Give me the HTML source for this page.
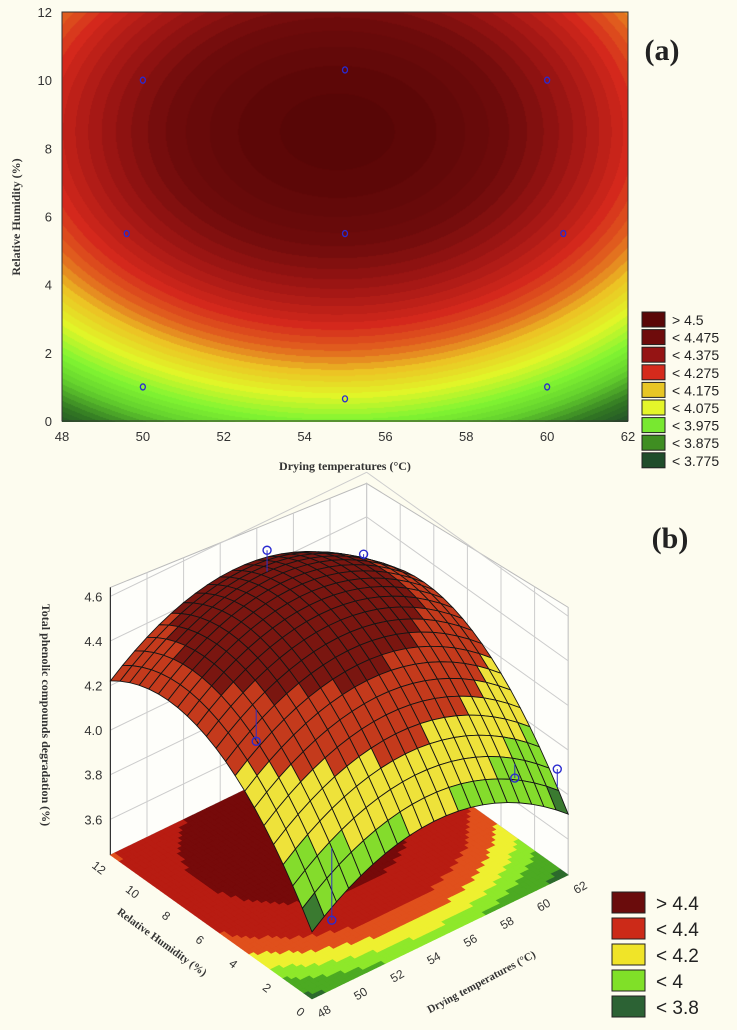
<!DOCTYPE html>
<html><head><meta charset="utf-8">
<style>
html,body{margin:0;padding:0;background:#fdfcef;}
#wrap{position:relative;width:737px;height:1030px;overflow:hidden;background:#fdfcef;font-family:"Liberation Sans",sans-serif;}
svg{position:absolute;left:0;top:0;}
canvas{position:absolute;}
</style></head>
<body>
<div id="wrap">
<canvas id="cv" width="566" height="410" style="left:62px;top:12px"></canvas>
<svg id="sv" width="737" height="1030"></svg>
</div>
<script>
// ---- data ----
const coefA = [4.55, 54.8, 0.005, 8.5, 0.008]; // peak, T0, a, RH0, b
const designT = [50, 55, 60, 49.6, 55, 60.4, 50, 55, 60];
const designRH = [10, 10.3, 10, 5.5, 5.5, 5.5, 1, 0.65, 1];
const xTicks = [48, 50, 52, 54, 56, 58, 60, 62];
const yTicks = [0, 2, 4, 6, 8, 10, 12];
const legendA = ["> 4.5", "< 4.475", "< 4.375", "< 4.275", "< 4.175", "< 4.075", "< 3.975", "< 3.875", "< 3.775"];
const legendAColors = ["#5a0707", "#6e0b0b", "#951414", "#d52a1c", "#e8c625", "#e4f52a", "#78e830", "#3f8e22", "#1f4d2a"];
const zTicks = [3.6, 3.8, 4.0, 4.2, 4.4, 4.6];
const rhTicks3d = [0, 2, 4, 6, 8, 10, 12];
const tTicks3d = [48, 50, 52, 54, 56, 58, 60, 62];
const legendB = ["> 4.4", "< 4.4", "< 4.2", "< 4", "< 3.8"];
const legendBColors = ["#6a0c0c", "#cc2a18", "#f0e428", "#80e028", "#2c6234"];
const bandLevels = [3.8, 4.0, 4.2, 4.4];
const floorLevels = [3.8, 3.95, 4.05, 4.15, 4.25, 4.42];
const floorColors = ["#2c6a2c", "#4caa22", "#8ee82a", "#eef030", "#e0501c", "#b81c12", "#760a0a"];
const obsT = [55, 60, 50, 60, 62, 50];
const obsRH = [10.3, 10, 5.5, 1, 0.65, 1];
const obsZ = [4.62, 4.42, 4.22, 3.9, 3.88, 3.66];

function model(T, RH){ return coefA[0] - coefA[2]*(T-coefA[1])**2 - coefA[4]*(RH-coefA[3])**2; }

// ---- contour (a) ----
const stops = [[3.70,[30,72,40]],[3.80,[50,120,35]],[3.90,[100,210,45]],[3.98,[130,245,50]],[4.07,[225,245,40]],[4.15,[236,196,36]],[4.22,[226,100,30]],[4.29,[212,40,28]],[4.38,[160,22,20]],[4.46,[112,12,12]],[4.55,[88,6,6]]];
function colA(z){
  z = Math.floor(z/0.02)*0.02+0.01;
  if(z<=stops[0][0]) return stops[0][1];
  for(let i=1;i<stops.length;i++){ if(z<=stops[i][0]){const t=(z-stops[i-1][0])/(stops[i][0]-stops[i-1][0]);return stops[i-1][1].map((c,k)=>Math.round(c+(stops[i][1][k]-c)*t));}}
  return stops[stops.length-1][1];
}
const X0=62,X1=628,Y0=12,Y1=421;
const sx=T=>X0+(T-48)/14*(X1-X0), sy=R=>Y1-R/12*(Y1-Y0);
const cv=document.getElementById('cv'),ctx=cv.getContext('2d');
const img=ctx.createImageData(566,410);
for(let py=0;py<410;py++)for(let px=0;px<566;px++){
  const T=48+px/566*14,R=12-py/409*12;const c=colA(model(T,R));const o=(py*566+px)*4;
  img.data[o]=c[0];img.data[o+1]=c[1];img.data[o+2]=c[2];img.data[o+3]=255;}
ctx.putImageData(img,0,0);

const NS="http://www.w3.org/2000/svg";
const sv=document.getElementById('sv');
function el(tag,attrs,parent){const e=document.createElementNS(NS,tag);for(const k in attrs)e.setAttribute(k,attrs[k]);(parent||sv).appendChild(e);return e;}
function txt(s,attrs){const e=el('text',attrs);e.textContent=s;return e;}

// axes a
let e=el('rect',{x:X0,y:Y0,width:X1-X0,height:Y1-Y0,fill:'none',stroke:'#333','stroke-width':1});

xTicks.forEach(t=>{e=txt(t,{x:sx(t),y:441,'font-size':13,'text-anchor':'middle',fill:'#333'});
});
yTicks.forEach(t=>{e=txt(t,{x:52,y:sy(t)+5,'font-size':13,'text-anchor':'end',fill:'#333'});
});
e=txt('Drying temperatures (°C)',{x:345,y:470,'font-size':12,'font-weight':'bold','font-family':'Liberation Serif, serif','text-anchor':'middle',fill:'#333'});

e=txt('Relative Humidity (%)',{x:0,y:0,'font-size':12,'font-weight':'bold','font-family':'Liberation Serif, serif','text-anchor':'middle',fill:'#333',transform:'translate(20,217) rotate(-90)'});

designT.forEach((t,i)=>{e=el('ellipse',{cx:sx(t),cy:sy(designRH[i]),rx:2.5,ry:3,fill:'none',stroke:'#2a2ad0','stroke-width':1.3});
});
e=txt('(a)',{x:662,y:60,'font-size':30,'font-weight':'bold','font-family':'Liberation Serif, serif','text-anchor':'middle',fill:'#222'});

legendA.forEach((s,i)=>{const y=312+i*17.6;
e=el('rect',{x:642,y:y,width:23,height:15,fill:legendAColors[i],stroke:'#222','stroke-width':1});

e=txt(s,{x:672,y:y+13,'font-size':14,fill:'#222'});
});

// ---- 3D (b) ----
const O=[312,999],uT=[18.3,-8.86],uR=[-16.8,-12],ZF=3.44,zs=223;
function P(T,R,z){return [O[0]+(T-48)*uT[0]+R*uR[0], O[1]+(T-48)*uT[1]+R*uR[1]-(z-ZF)*zs];}
const ZT=4.55;
function bandCol(z){let i=0;while(i<bandLevels.length&&z>=bandLevels[i])i++;return legendBColors[4-i];}
function floorCol(z){let i=0;while(i<floorLevels.length&&z>=floorLevels[i])i++;return floorColors[i];}
const g3=el('g',{});
function line(a,b,st,w,par){return el('line',{x1:a[0],y1:a[1],x2:b[0],y2:b[1],stroke:st,'stroke-width':w},par);}
const wall=el('polygon',{points:[P(48,12,ZF),P(62,12,ZF),P(62,12,ZT),P(48,12,ZT+0.09)].join(' '),fill:'#fefefa',stroke:'#bbb'},g3);

const wall2=el('polygon',{points:[P(62,12,ZF),P(62,0,ZF),P(62,0,ZT+0.09),P(62,12,ZT)].join(' '),fill:'#fefefa',stroke:'#bbb'},g3);

tTicks3d.forEach(t=>line(P(t,12,ZF),P(t,12,ZT+0.09*(62-t)/14),'#ccc',1,g3));
rhTicks3d.forEach(r=>line(P(62,r,ZF),P(62,r,ZT+0.09*(12-r)/12),'#ccc',1,g3));
zTicks.forEach(z=>{line(P(48,12,z),P(62,12,z),'#ccc',1,g3);line(P(62,12,z),P(62,0,z),'#ccc',1,g3);});
line(P(48,12,ZF),P(48,12,4.64),'#333',1.2,g3);
// floor
const NF=56,MF=48;
for(let i=0;i<NF;i++)for(let j=0;j<MF;j++){
  const T0=48+i*14/NF,T1=48+(i+1)*14/NF,R0=j*12/MF,R1=(j+1)*12/MF;
  const c=floorCol(model((T0+T1)/2,(R0+R1)/2));
  el('polygon',{points:[P(T0,R0,ZF),P(T1,R0,ZF),P(T1,R1,ZF),P(T0,R1,ZF)].join(' '),fill:c,stroke:c,'stroke-width':0.6},g3);
}
// surface
const N=21,quads=[];
for(let i=0;i<N;i++)for(let j=0;j<N;j++){
  const T0=48+i*14/N,T1=48+(i+1)*14/N,R0=j*12/N,R1=(j+1)*12/N;
  quads.push({T0,T1,R0,R1,d:(T0-48)/14+R0/12});
}
quads.sort((a,b)=>b.d-a.d);
const shade={"#6a0c0c":"#7a1610","#cc2a18":"#c43a1c","#f0e428":"#eee23a","#80e028":"#84dc2c","#2c6234":"#3a7a30"};
quads.forEach(q=>{
  const z00=model(q.T0,q.R0),z10=model(q.T1,q.R0),z11=model(q.T1,q.R1),z01=model(q.T0,q.R1);
  const c=bandCol((z00+z10+z11+z01)/4);
  el('polygon',{points:[P(q.T0,q.R0,z00),P(q.T1,q.R0,z10),P(q.T1,q.R1,z11),P(q.T0,q.R1,z01)].join(' '),fill:shade[c]||c,stroke:'#151515','stroke-width':0.9},g3);
});
obsT.forEach((t,i)=>{const a=P(t,obsRH[i],obsZ[i]),b=P(t,obsRH[i],model(t,obsRH[i]));
line(a,b,'#3030c0',1,g3);
e=el('circle',{cx:a[0],cy:a[1],r:4,fill:'none',stroke:'#2a2ad0','stroke-width':1.4},g3);
});
// ticks 3D
zTicks.forEach(z=>{const p=P(48,12,z);e=txt(z.toFixed(1),{x:p[0]-8,y:p[1]+5,'font-size':13,'text-anchor':'end',fill:'#333'});
});
rhTicks3d.forEach(r=>{const p=P(48,r,ZF);e=txt(r,{x:0,y:0,'font-size':12,'text-anchor':'middle',fill:'#333',transform:`translate(${p[0]-14},${p[1]+16}) rotate(38)`});
});
tTicks3d.forEach(t=>{const p=P(t,0,ZF);e=txt(t,{x:0,y:0,'font-size':12,'text-anchor':'middle',fill:'#333',transform:`translate(${p[0]+14},${p[1]+16}) rotate(-30)`});
});
e=txt('Total phenolic compounds degradation (%)',{x:0,y:0,'font-size':12,'font-weight':'bold','font-family':'Liberation Serif, serif','text-anchor':'middle',fill:'#333',transform:'translate(42,715) rotate(90)'});

e=txt('Relative Humidity (%)',{x:0,y:0,'font-size':11,'font-weight':'bold','font-family':'Liberation Serif, serif','text-anchor':'middle',fill:'#333',transform:'translate(160,945) rotate(36)'});

e=txt('Drying temperatures (°C)',{x:0,y:0,'font-size':11,'font-weight':'bold','font-family':'Liberation Serif, serif','text-anchor':'middle',fill:'#333',transform:'translate(483,985) rotate(-28)'});

e=txt('(b)',{x:670,y:548,'font-size':30,'font-weight':'bold','font-family':'Liberation Serif, serif','text-anchor':'middle',fill:'#222'});

legendB.forEach((s,i)=>{const y=892+i*26;
e=el('rect',{x:612,y:y,width:33,height:21,fill:legendBColors[i],stroke:'#222','stroke-width':1});

e=txt(s,{x:656,y:y+18,'font-size':19,fill:'#222'});
});
</script>
</body></html>
